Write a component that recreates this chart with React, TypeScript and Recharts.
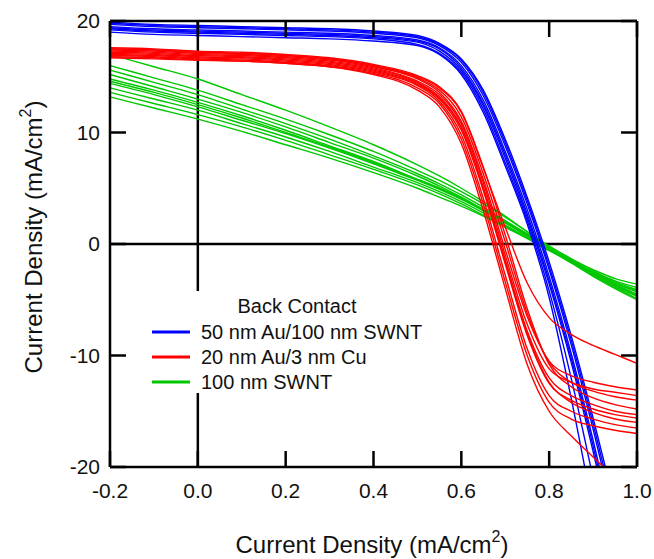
import { LineChart, Line, XAxis, YAxis, ReferenceLine, Legend } from 'recharts';

// bias voltage grid shared by every J-V sweep
const voltage = [-0.2, -0.1, 0, 0.1, 0.2, 0.3, 0.4, 0.5, 0.55, 0.6, 0.65, 0.7, 0.75, 0.8, 0.85, 0.9, 0.95, 1.0];

// 50 nm Au / 100 nm SWNT back contact (blue)
const auSwntCurves = [
  [19.9, 19.7, 19.6, 19.5, 19.4, 19.3, 19.1, 18.7, 18.0, 16.6, 13.8, 9.4, 4.2, -1.6, -8.2, -15.6, -23.5, -31.5],
  [19.7, 19.5, 19.4, 19.3, 19.2, 19.1, 18.9, 18.5, 17.8, 16.3, 13.3, 8.8, 3.6, -2.3, -9.0, -16.6, -24.8, -33],
  [19.5, 19.3, 19.2, 19.1, 19.0, 18.9, 18.7, 18.3, 17.6, 16.0, 12.9, 8.3, 3.1, -2.9, -9.8, -17.6, -26, -34.5],
  [19.3, 19.1, 19.0, 18.9, 18.8, 18.7, 18.5, 18.1, 17.3, 15.6, 12.4, 7.7, 2.4, -3.6, -10.6, -18.6, -27.2, -36],
  [19.0, 18.8, 18.7, 18.6, 18.5, 18.4, 18.2, 17.8, 17.0, 15.2, 11.8, 7.0, 1.8, -4.8, -13.8, -24.0, -35, -46],
  [19.8, 19.6, 19.5, 19.4, 19.3, 19.2, 19.0, 18.6, 17.9, 16.5, 13.6, 9.1, 3.9, -2.0, -8.6, -16.1, -24.2, -32.3],
  [19.4, 19.2, 19.1, 19.0, 18.9, 18.8, 18.6, 18.2, 17.5, 15.8, 12.6, 8.0, 2.7, -3.3, -10.2, -18.1, -26.6, -35.3],
  [19.2, 19.0, 18.9, 18.8, 18.7, 18.6, 18.4, 17.9, 17.1, 15.4, 12.1, 7.3, 2.1, -4.2, -12.0, -21.0, -30.5, -40],
];

// 20 nm Au / 3 nm Cu back contact (red)
const auCuCurves = [
  [17.5, 17.4, 17.2, 17.1, 16.9, 16.6, 16.0, 15.0, 14.0, 11.8, 6.8, 1.5, -3.5, -6.6, -8.1, -9.1, -9.9, -10.7],
  [17.4, 17.3, 17.1, 17.0, 16.8, 16.5, 15.9, 14.8, 13.6, 11.0, 5.8, -0.5, -6.5, -10.5, -11.8, -12.4, -12.8, -13.1],
  [17.3, 17.2, 17.0, 16.9, 16.7, 16.4, 15.8, 14.6, 13.4, 10.8, 5.5, -1.0, -7.2, -11.2, -12.4, -13.0, -13.3, -13.6],
  [17.6, 17.5, 17.3, 17.2, 17.0, 16.7, 16.1, 15.1, 14.1, 11.9, 6.9, 0.8, -5.8, -10.8, -12.8, -13.8, -14.4, -14.8],
  [17.2, 17.1, 16.9, 16.8, 16.6, 16.3, 15.7, 14.5, 13.2, 10.5, 5.1, -1.4, -7.8, -12.0, -13.6, -14.4, -15.0, -15.3],
  [17.0, 16.9, 16.7, 16.6, 16.4, 16.1, 15.5, 14.3, 13.0, 10.2, 4.8, -1.8, -8.2, -12.5, -14.0, -14.8, -15.3, -15.6],
  [17.1, 17.0, 16.8, 16.7, 16.5, 16.2, 15.6, 14.4, 13.1, 10.4, 5.0, -1.6, -8.0, -12.4, -14.2, -15.1, -15.7, -16.0],
  [16.9, 16.8, 16.6, 16.5, 16.3, 16.0, 15.4, 14.2, 12.8, 9.8, 4.1, -2.8, -9.4, -13.6, -15.0, -15.7, -16.2, -16.5],
  [16.7, 16.6, 16.5, 16.4, 16.2, 15.9, 15.3, 14.0, 12.6, 9.4, 3.6, -3.4, -10.0, -14.2, -15.7, -16.3, -16.7, -17.0],
  [16.8, 16.7, 16.5, 16.4, 16.2, 15.9, 15.2, 13.8, 12.3, 9.0, 3.0, -4.0, -10.8, -15.0, -17.2, -19.1, -21.0, -23.0],
  [17.5, 17.4, 17.2, 17.1, 16.9, 16.6, 16.0, 14.9, 13.8, 11.4, 6.3, 0.2, -6.2, -10.6, -12.4, -13.2, -13.7, -14.0],
];

// 100 nm SWNT back contact (green)
const swntCurves = [
  [17.0, 15.9, 14.8, 13.4, 12.0, 10.5, 8.9, 7.1, 6.1, 5.0, 3.8, 2.5, 1.1, -0.3, -1.6, -2.8, -3.9, -4.9],
  [16.0, 14.9, 13.8, 12.5, 11.2, 9.8, 8.3, 6.6, 5.7, 4.7, 3.6, 2.4, 1.1, -0.2, -1.4, -2.6, -3.6, -4.5],
  [15.6, 14.5, 13.4, 12.1, 10.8, 9.4, 7.9, 6.3, 5.4, 4.4, 3.3, 2.1, 0.9, -0.4, -1.6, -2.8, -3.8, -4.7],
  [15.2, 14.1, 13.0, 11.8, 10.5, 9.1, 7.7, 6.1, 5.2, 4.2, 3.1, 2.0, 0.8, -0.5, -1.7, -2.9, -4.0, -5.0],
  [14.8, 13.8, 12.7, 11.5, 10.2, 8.8, 7.4, 5.8, 5.0, 4.1, 3.0, 1.9, 0.7, -0.5, -1.6, -2.7, -3.7, -4.6],
  [14.4, 13.4, 12.3, 11.1, 9.9, 8.6, 7.2, 5.7, 4.9, 4.0, 3.0, 1.9, 0.8, -0.4, -1.5, -2.6, -3.5, -4.3],
  [14.0, 13.0, 12.0, 10.8, 9.6, 8.3, 6.9, 5.5, 4.7, 3.8, 2.8, 1.7, 0.6, -0.5, -1.6, -2.6, -3.5, -4.2],
  [13.6, 12.6, 11.6, 10.5, 9.3, 8.0, 6.7, 5.3, 4.5, 3.6, 2.6, 1.6, 0.5, -0.6, -1.6, -2.5, -3.3, -3.9],
  [13.2, 12.2, 11.2, 10.1, 8.9, 7.7, 6.4, 5.0, 4.2, 3.4, 2.5, 1.5, 0.5, -0.5, -1.4, -2.3, -3.1, -3.6],
  [14.6, 13.6, 12.5, 11.3, 10.0, 8.7, 7.3, 5.8, 5.0, 4.1, 3.1, 2.0, 0.9, -0.2, -1.3, -2.4, -3.4, -4.1],
];

const xTicks = [-0.2, 0, 0.2, 0.4, 0.6, 0.8, 1.0];
const yTicks = [-20, -10, 0, 10, 20];

const legendTitle = 'Back Contact';
const legendLabels = ['50 nm Au/100 nm SWNT', '20 nm Au/3 nm Cu', '100 nm SWNT'];

const BLUE = '#0000ff';
const RED = '#ff0000';
const GREEN = '#00c800';
const INK = '#111';
const FONT = '"Liberation Sans", Arial, sans-serif';

const legendColors = [BLUE, RED, GREEN];

// drawing order: green underneath, red on top
const groups = [
  { key: 'g', curves: swntCurves, color: GREEN },
  { key: 'b', curves: auSwntCurves, color: BLUE },
  { key: 'r', curves: auCuCurves, color: RED },
];

const rows = voltage.map((v, i) => {
  const row: Record<string, number> = { v };
  groups.forEach((g) => g.curves.forEach((c, j) => { row[`${g.key}${j}`] = c[i]; }));
  return row;
});

const XLabel = () => (
  <text x={372} y={553} textAnchor="middle" fontSize={24} fill={INK} fontFamily={FONT}>
    Current Density (mA/cm
    <tspan dy={-11} fontSize={16}>2</tspan>
    <tspan dy={11}>)</tspan>
  </text>
);

const YLabel = () => (
  <text x={42} y={237} transform="rotate(-90 42 237)" textAnchor="middle" fontSize={24} fill={INK} fontFamily={FONT}>
    Current Density (mA/cm
    <tspan dy={-11} fontSize={16}>2</tspan>
    <tspan dy={11}>)</tspan>
  </text>
);

const LegendBox = () => (
  <svg width={290} height={102} style={{ display: 'block', background: '#fff' }}>
    <text x={152} y={22} textAnchor="middle" fontSize={20} fill={INK} fontFamily={FONT}>
      {legendTitle}
    </text>
    {legendLabels.map((label, i) => (
      <g key={label}>
        <line x1={7} x2={45} y1={41 + i * 25} y2={41 + i * 25} stroke={legendColors[i]} strokeWidth={3} />
        <text x={56} y={48 + i * 25} fontSize={20} fill={INK} fontFamily={FONT}>
          {label}
        </text>
      </g>
    ))}
  </svg>
);

const tickStyle = { fontSize: 21, fill: INK, fontFamily: FONT };
const frame = { stroke: '#000', strokeWidth: 2.5 };
const blank = () => '';

export default function App() {
  return (
    <div style={{ position: 'absolute', left: 0, top: 0, background: '#fff' }}>
      <LineChart width={654} height={559} data={rows} margin={{ top: 20, right: 0, bottom: 0, left: 0 }}>
        <XAxis
          dataKey="v"
          type="number"
          domain={[-0.2, 1.0]}
          ticks={xTicks}
          interval={0}
          tickFormatter={(v: number) => v.toFixed(1)}
          tick={tickStyle}
          tickSize={-16}
          tickMargin={32}
          tickLine={frame}
          axisLine={frame}
          height={92}
          label={XLabel}
        />
        <XAxis
          xAxisId="top"
          orientation="top"
          dataKey="v"
          type="number"
          domain={[-0.2, 1.0]}
          ticks={xTicks}
          interval={0}
          tickFormatter={blank}
          tickSize={-16}
          tickLine={frame}
          axisLine={frame}
          height={1}
        />
        <YAxis
          type="number"
          domain={[-20, 20]}
          ticks={yTicks}
          interval={0}
          allowDataOverflow
          tick={tickStyle}
          tickSize={-16}
          tickMargin={26}
          tickLine={frame}
          axisLine={frame}
          width={110}
          label={YLabel}
        />
        <YAxis
          yAxisId="right"
          orientation="right"
          type="number"
          domain={[-20, 20]}
          ticks={yTicks}
          interval={0}
          allowDataOverflow
          tickFormatter={blank}
          tickSize={-16}
          tickLine={frame}
          axisLine={frame}
          width={17}
        />
        <ReferenceLine x={0} stroke="#000" strokeWidth={2.5} />
        <ReferenceLine y={0} stroke="#000" strokeWidth={2.5} />
        {groups.map((g) =>
          g.curves.map((_, j) => (
            <Line
              key={`${g.key}${j}`}
              dataKey={`${g.key}${j}`}
              type="monotone"
              stroke={g.color}
              strokeWidth={1.4}
              dot={false}
              activeDot={false}
              isAnimationActive={false}
            />
          ))
        )}
        <Legend
          layout="horizontal"
          verticalAlign="middle"
          align="center"
          content={LegendBox}
          wrapperStyle={{ left: 145, top: 291, width: 290, height: 102 }}
        />
      </LineChart>
    </div>
  );
}
